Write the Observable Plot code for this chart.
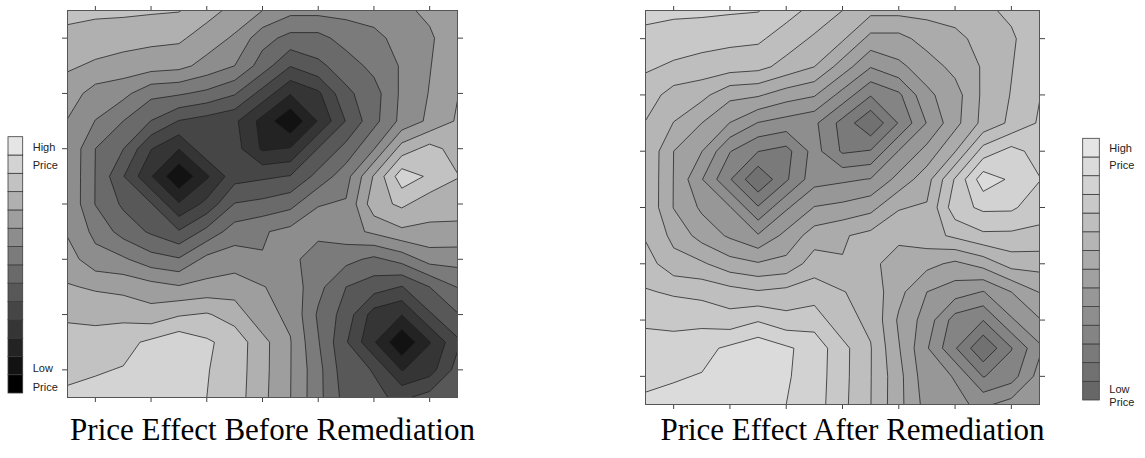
<!DOCTYPE html>
<html>
<head>
<meta charset="utf-8">
<script src="https://cdn.jsdelivr.net/npm/d3@7"></script>
<script src="https://cdn.jsdelivr.net/npm/@observablehq/plot@0.6"></script>
<style>
  html, body { margin: 0; padding: 0; background: #fff; }
  #root { position: relative; width: 1145px; height: 458px; overflow: hidden; }
  #root svg { position: absolute; background: transparent; }
  .title { position: absolute; font-family: "Liberation Serif", "Times New Roman", serif; font-size: 31px; line-height: 31px; text-align: center; color: #000; white-space: nowrap; }
</style>
</head>
<body>
<div id="root"></div>
<script>
// ---- data ----
const gridX = [0, 1, 2, 3, 4, 5, 6, 7];
const gridY = [0, 1, 2, 3, 4, 5, 6, 7]; // row 0 = top of the map
// price level at each grid node (low = dark, high = light)
const priceBefore = [
  [11.3, 11.2, 11.05, 9.7, 8.3, 8.3, 8.8, 9.6],
  [10.13, 9.6, 9.3, 8.0, 5.05, 6.5, 8.1, 9.8],
  [8.95, 7.0, 4.95, 4.2, 1.1, 5.05, 8.3, 10.12],
  [8.9, 5.05, 1.1, 4.6, 5.05, 7.6, 12.6, 11.05],
  [8.88, 6.6, 5.1, 7.5, 8.3, 8.6, 9.8, 9.75],
  [10.08, 9.7, 9.1, 9.5, 8.6, 6.0, 4.95, 7.05],
  [11.5, 11.7, 12.7, 11.6, 9.05, 5.1, 1.1, 4.8],
  [12.14, 12.4, 12.5, 11.5, 9.02, 5.6, 4.8, 6.0]
];
const priceAfter = [
  [11.3, 11.2, 11.05, 9.7, 8.3, 8.3, 8.8, 9.6],
  [10.13, 9.6, 9.3, 8.0, 5.05, 6.5, 8.1, 9.8],
  [8.95, 7.0, 4.95, 4.2, 1.1, 5.05, 8.3, 10.12],
  [8.9, 5.05, 1.1, 4.6, 5.05, 7.6, 12.6, 11.05],
  [8.88, 6.6, 5.1, 7.5, 8.3, 8.6, 9.8, 9.75],
  [10.08, 9.7, 9.1, 9.5, 8.6, 6.0, 4.95, 7.05],
  [11.5, 11.7, 12.7, 11.6, 9.05, 5.1, 1.1, 4.8],
  [12.14, 12.4, 12.5, 11.5, 9.02, 5.6, 4.8, 6.0]
];
const bandLevels = [0, 1, 2, 3, 4, 5, 6, 7, 8, 9, 10, 11, 12, 13];
const beforeGrays = ["#000000", "#121212", "#232323", "#353535", "#464646", "#585858", "#6a6a6a",
                     "#7b7b7b", "#8d8d8d", "#9e9e9e", "#b0b0b0", "#c2c2c2", "#d3d3d3", "#e5e5e5"];
const afterGrays = ["#676767", "#717171", "#7a7a7a", "#848484", "#8e8e8e", "#979797", "#a1a1a1",
                    "#ababab", "#b5b5b5", "#bebebe", "#c8c8c8", "#d2d2d2", "#dbdbdb", "#e5e5e5"];
const tickPositions = [0.5, 1.5, 2.5, 3.5, 4.5, 5.5, 6.5];
const titles = ["Price Effect Before Remediation", "Price Effect After Remediation"];
const legendWords = ["High", "Price", "Low", "Price"];

// ---- rendering ----
const root = document.getElementById("root");

function place(node, left, top) {
  node.style.left = left + "px";
  node.style.top = top + "px";
  root.appendChild(node);
}

function contourPanel(values, grays, L) {
  const pts = gridY.flatMap((y, j) => gridX.map((x, i) => ({x, y, v: values[j][i]})));
  const ext = [d3.min(gridX), d3.max(gridX)];
  // raster of 15 x 15 samples whose centres sit (just inside) on the half-unit lattice
  const pad = 0.2495;
  return Plot.plot({
    width: L.w, height: L.h,
    marginLeft: L.ml, marginRight: L.mr, marginTop: L.mt, marginBottom: L.mb,
    style: {color: "#444", background: "transparent"},
    x: {domain: ext, axis: "both", ticks: tickPositions, tickSize: 5, tickFormat: () => "", label: null},
    y: {domain: [ext[1], ext[0]], axis: "both", ticks: tickPositions, tickSize: 5, tickFormat: () => "", label: null},
    color: {type: "ordinal", domain: bandLevels, range: grays},
    marks: [
      Plot.contour(pts, {
        x: "x", y: "y", fill: "v",
        x1: ext[0] - pad, x2: ext[1] + pad, y1: ext[0] - pad, y2: ext[1] + pad,
        width: 15, height: 15, interpolate: "barycentric",
        thresholds: bandLevels,
        stroke: "#1e1e1e", strokeWidth: 0.75, clip: true
      }),
      Plot.frame({stroke: "#555", strokeWidth: 1})
    ]
  });
}

function legendPanel(grays, L) {
  const bands = bandLevels.map(b => ({b}));
  const n = bandLevels.length;
  const labels = legendWords.map((t, k) => ({t, y: L.labelY[k]}));
  return Plot.plot({
    width: L.w, height: L.h, margin: 0,
    style: {background: "transparent"},
    x: {domain: [0, 1], range: [L.x0, L.x1], axis: null},
    y: {domain: [0, n], range: [L.yb, L.yt], axis: null},
    color: {type: "ordinal", domain: bandLevels, range: grays},
    marks: [
      Plot.rect(bands, {x1: 0, x2: 1, y1: "b", y2: d => d.b + 1, fill: "b", stroke: "#3c3c3c", strokeWidth: 0.8}),
      Plot.text(labels, {x: 1, y: "y", text: "t", dx: L.gap, textAnchor: "start",
        fontFamily: "Liberation Sans, Arial, sans-serif", fontSize: 11, fill: "#222"})
    ]
  });
}

place(contourPanel(priceBefore, beforeGrays, {w: 475, h: 410, ml: 67, mr: 18, mt: 10, mb: 13}), 0, 0);
place(contourPanel(priceAfter, afterGrays, {w: 460, h: 420, ml: 45, mr: 21, mt: 10, mb: 16}), 600, 0);

place(legendPanel(beforeGrays, {w: 80, h: 290, x0: 8, x1: 22.7, yb: 273, yt: 16.7, gap: 9.5,
  labelY: [13.45, 12.45, 1.35, 0.35]}), 0, 120);
place(legendPanel(afterGrays, {w: 85, h: 300, x0: 22.7, x1: 39.3, yb: 280, yt: 18.3, gap: 9.5,
  labelY: [13.5, 12.55, 0.6, -0.1]}), 1060, 120);

titles.forEach((t, k) => {
  const d = document.createElement("div");
  d.className = "title";
  d.textContent = t;
  d.style.width = "545px";
  place(d, k === 0 ? 0 : 580, 414);
});
</script>
</body>
</html>
